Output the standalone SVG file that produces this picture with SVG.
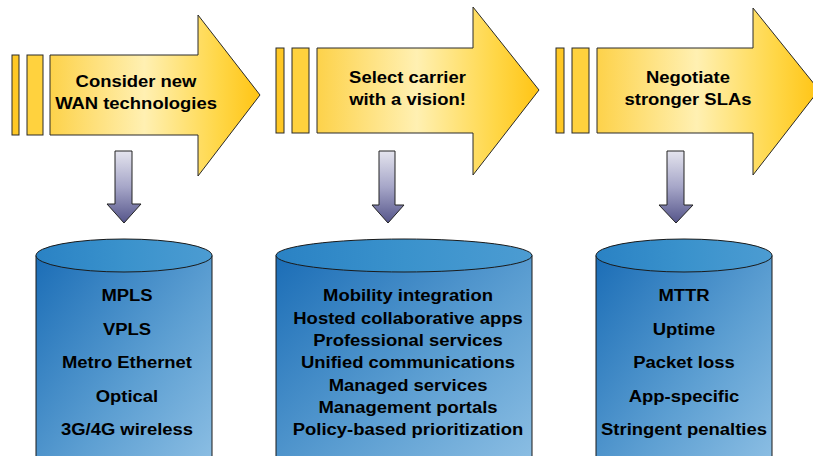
<svg xmlns="http://www.w3.org/2000/svg" width="813" height="456" viewBox="0 0 813 456">
<defs>
<linearGradient id="yel" x1="0" y1="0" x2="1" y2="0">
<stop offset="0" stop-color="#FDD24A"/>
<stop offset="0.45" stop-color="#FFF0B2"/>
<stop offset="0.8" stop-color="#FFD748"/>
<stop offset="1" stop-color="#FFC414"/>
</linearGradient>
<linearGradient id="dn" x1="0" y1="0" x2="0" y2="1">
<stop offset="0" stop-color="#E4E4EE"/>
<stop offset="0.5" stop-color="#A6A6C8"/>
<stop offset="1" stop-color="#55558A"/>
</linearGradient>
<linearGradient id="cyl" x1="0" y1="0" x2="1" y2="1">
<stop offset="0" stop-color="#1B6DB6"/>
<stop offset="0.55" stop-color="#5D9FD2"/>
<stop offset="1" stop-color="#93C3E6"/>
</linearGradient>
<linearGradient id="cyltop" x1="0" y1="0" x2="1" y2="0">
<stop offset="0" stop-color="#2A82C4"/>
<stop offset="0.5" stop-color="#3A92CC"/>
<stop offset="1" stop-color="#4C9CD2"/>
</linearGradient>
</defs>
<style>
.arr{fill:url(#yel);stroke:#2a2a2a;stroke-width:1}
.bar1{fill:#FFC825;stroke:#2a2a2a;stroke-width:1}
.bar2{fill:#FFD23E;stroke:#2a2a2a;stroke-width:1}
.dn{fill:url(#dn);stroke:#222;stroke-width:1}
.body{fill:url(#cyl);stroke:#1a1a1a;stroke-width:1}
.top{fill:url(#cyltop);stroke:#1a1a1a;stroke-width:1}
text{font-family:"Liberation Sans",Arial,sans-serif;font-weight:bold;font-size:17px;fill:#000;text-anchor:middle}
</style>

<g id="step1">
<rect class="bar1" x="12" y="55" width="7" height="80"/>
<rect class="bar2" x="27" y="55" width="16" height="80"/>
<path class="arr" d="M50,55 H198 V15 L260,95 L198,176 V135 H50 Z"/>
<g transform="translate(136,0) scale(1.085,1)">
<text x="0" y="87">Consider new</text>
<text x="0" y="109">WAN technologies</text>
</g>
</g>

<g id="step2">
<rect class="bar1" x="276" y="48" width="8" height="85"/>
<rect class="bar2" x="292" y="48" width="17" height="85"/>
<path class="arr" d="M317,48 H473 V7 L539,90 L473,175 V133 H317 Z"/>
<g transform="translate(407.5,0) scale(1.085,1)">
<text x="0" y="83">Select carrier</text>
<text x="0" y="105">with a vision!</text>
</g>
</g>

<g id="step3">
<rect class="bar1" x="556" y="48" width="8" height="85"/>
<rect class="bar2" x="572" y="48" width="17" height="85"/>
<path class="arr" d="M597,48 H753 V8 L819,90 L753,175 V133 H597 Z"/>
<g transform="translate(688,0) scale(1.085,1)">
<text x="0" y="83">Negotiate</text>
<text x="0" y="105">stronger SLAs</text>
</g>
</g>

<g id="connectors">
<path class="dn" d="M115,151 H132 V204 H141 L124,223 L107,204 H115 Z"/>
<path class="dn" d="M379,151 H395 V205 H404 L388,223 L372,205 H379 Z"/>
<path class="dn" d="M667,151 H684 V205 H693 L676,223 L659,205 H667 Z"/>
</g>

<g id="cyl1">
<path class="body" d="M36,255.5 V475 A88,16.5 0 0 0 212,475 V255.5 Z"/>
<ellipse class="top" cx="124" cy="255.5" rx="88" ry="16.5"/>
<g transform="translate(127,0) scale(1.085,1)">
<text x="0" y="301.5">MPLS</text>
<text x="0" y="335">VPLS</text>
<text x="0" y="368.5">Metro Ethernet</text>
<text x="0" y="402">Optical</text>
<text x="0" y="435.5">3G/4G wireless</text>
</g>
</g>

<g id="cyl2">
<path class="body" d="M276,255.5 V475 A128,16.5 0 0 0 532,475 V255.5 Z"/>
<ellipse class="top" cx="404" cy="255.5" rx="128" ry="16.5"/>
<g transform="translate(408,0) scale(1.085,1)">
<text x="0" y="301.5">Mobility integration</text>
<text x="0" y="323.8">Hosted collaborative apps</text>
<text x="0" y="346.2">Professional services</text>
<text x="0" y="368.5">Unified communications</text>
<text x="0" y="390.8">Managed services</text>
<text x="0" y="413.2">Management portals</text>
<text x="0" y="435.5">Policy-based prioritization</text>
</g>
</g>

<g id="cyl3">
<path class="body" d="M596,255.5 V475 A88,16.5 0 0 0 772,475 V255.5 Z"/>
<ellipse class="top" cx="684" cy="255.5" rx="88" ry="16.5"/>
<g transform="translate(684,0) scale(1.085,1)">
<text x="0" y="301.5">MTTR</text>
<text x="0" y="335">Uptime</text>
<text x="0" y="368.5">Packet loss</text>
<text x="0" y="402">App-specific</text>
<text x="0" y="435.5">Stringent penalties</text>
</g>
</g>
</svg>
